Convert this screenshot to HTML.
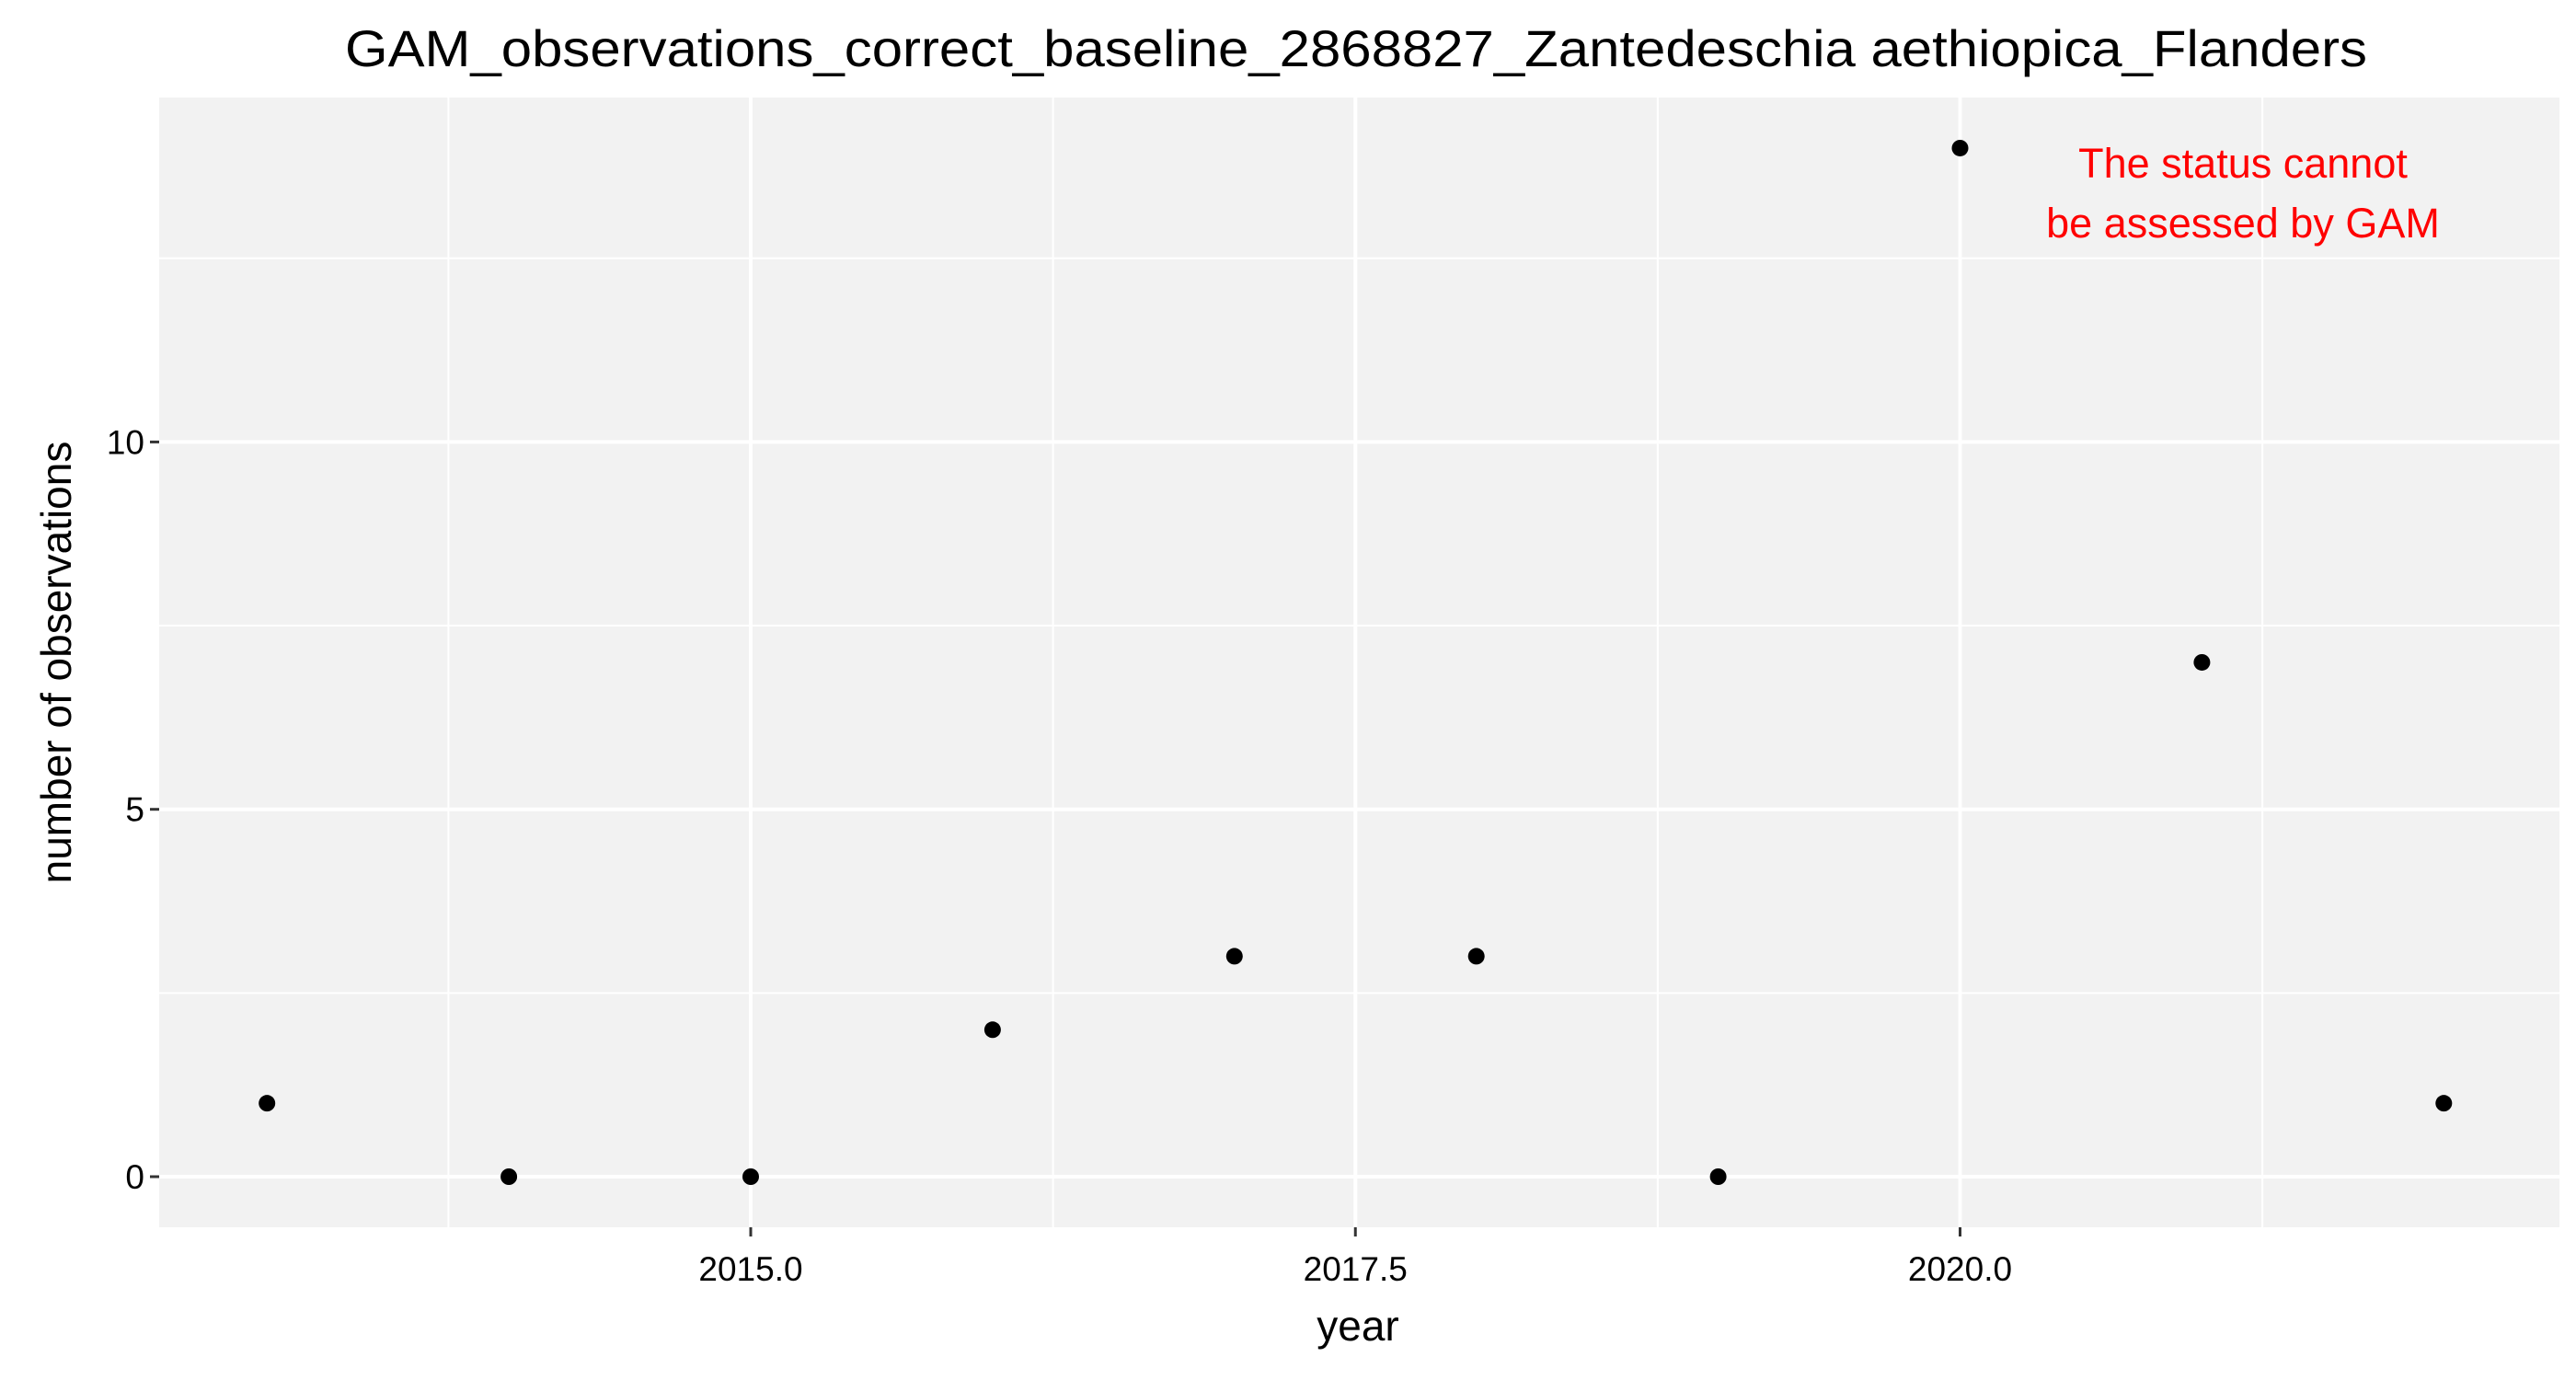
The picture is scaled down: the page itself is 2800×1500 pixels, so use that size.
<!DOCTYPE html>
<html><head><meta charset="utf-8">
<style>html,body{margin:0;padding:0;background:#fff}svg{display:block}text{font-family:"Liberation Sans",Arial,sans-serif}</style>
</head><body>
<svg id="chart" width="2800" height="1500" viewBox="0 0 2800 1500">
<rect x="0" y="0" width="2800" height="1500" fill="#fff"/>
<text x="1474" y="72" font-size="56" text-anchor="middle" textLength="2198" lengthAdjust="spacingAndGlyphs">GAM_observations_correct_baseline_2868827_Zantedeschia aethiopica_Flanders</text>
<rect x="173" y="106" width="2609" height="1228" fill="#f2f2f2"/>
<g id="grid"></g>
<g id="points"></g>
<g id="axes"></g>
<text x="2438" y="193" font-size="45" fill="#ff0000" text-anchor="middle">The status cannot</text>
<text x="2438" y="258" font-size="45" fill="#ff0000" text-anchor="middle">be assessed by GAM</text>
<text x="1476" y="1457" font-size="46" text-anchor="middle">year</text>
<text transform="translate(77,720) rotate(-90)" font-size="46" text-anchor="middle">number of observations</text>
</svg>
<script>
const years = [2013, 2014, 2015, 2016, 2017, 2018, 2019, 2020, 2021, 2022];
const counts = [1, 0, 0, 2, 3, 3, 0, 14, 7, 1];
const xTicks = [2015, 2017.5, 2020];
const xTickLabels = ["2015.0", "2017.5", "2020.0"];
const yTicks = [0, 5, 10];
const yTickLabels = ["0", "5", "10"];

const NS = "http://www.w3.org/2000/svg";
const P = {l:173, r:2782, t:106, b:1334};
function xs(v){ return 816 + (v - 2015) * 262.9; }
function ys(v){ return 1279 - v * 79.86; }
function mk(tag, attrs, parent){
  const e = document.createElementNS(NS, tag);
  for (const k in attrs) e.setAttribute(k, attrs[k]);
  parent.appendChild(e); return e;
}
const grid = document.getElementById('grid');
const pts = document.getElementById('points');
const axes = document.getElementById('axes');
const xStep = xTicks[1] - xTicks[0];
const yStep = yTicks[1] - yTicks[0];
for (let v = xTicks[0] - xStep * 1.5; v < 2023; v += xStep) {
  const x = xs(v); if (x < P.l || x > P.r) continue;
  const l = mk('line', {x1:x, x2:x, y1:P.t, y2:P.b, stroke:'#fff', 'stroke-width':2}, grid);
  
  
}
for (let v = yTicks[0] - yStep / 2; v < 16; v += yStep) {
  const y = ys(v); if (y < P.t || y > P.b) continue;
  const l = mk('line', {x1:P.l, x2:P.r, y1:y, y2:y, stroke:'#fff', 'stroke-width':2}, grid);
  
  
}
xTicks.forEach((v, i) => {
  const x = xs(v);
  const l = mk('line', {x1:x, x2:x, y1:P.t, y2:P.b, stroke:'#fff', 'stroke-width':4}, grid);
  
  
  const t = mk('line', {x1:x, x2:x, y1:P.b, y2:P.b + 10, stroke:'#333', 'stroke-width':3}, axes);
  
  
  const tx = mk('text', {x:x, y:1392, 'font-size':37, 'text-anchor':'middle', fill:'#000'}, axes);
  tx.textContent = xTickLabels[i];
  
  
});
yTicks.forEach((v, i) => {
  const y = ys(v);
  const l = mk('line', {x1:P.l, x2:P.r, y1:y, y2:y, stroke:'#fff', 'stroke-width':4}, grid);
  
  
  const t = mk('line', {x1:P.l - 10, x2:P.l, y1:y, y2:y, stroke:'#333', 'stroke-width':3}, axes);
  
  
  const tx = mk('text', {x:157, y:y + 13, 'font-size':37, 'text-anchor':'end', fill:'#000'}, axes);
  tx.textContent = yTickLabels[i];
  
  
});
years.forEach((yr, i) => {
  const c = mk('circle', {cx:xs(yr), cy:ys(counts[i]), r:9, fill:'#000'}, pts);
  
  
});
</script>
</body></html>
